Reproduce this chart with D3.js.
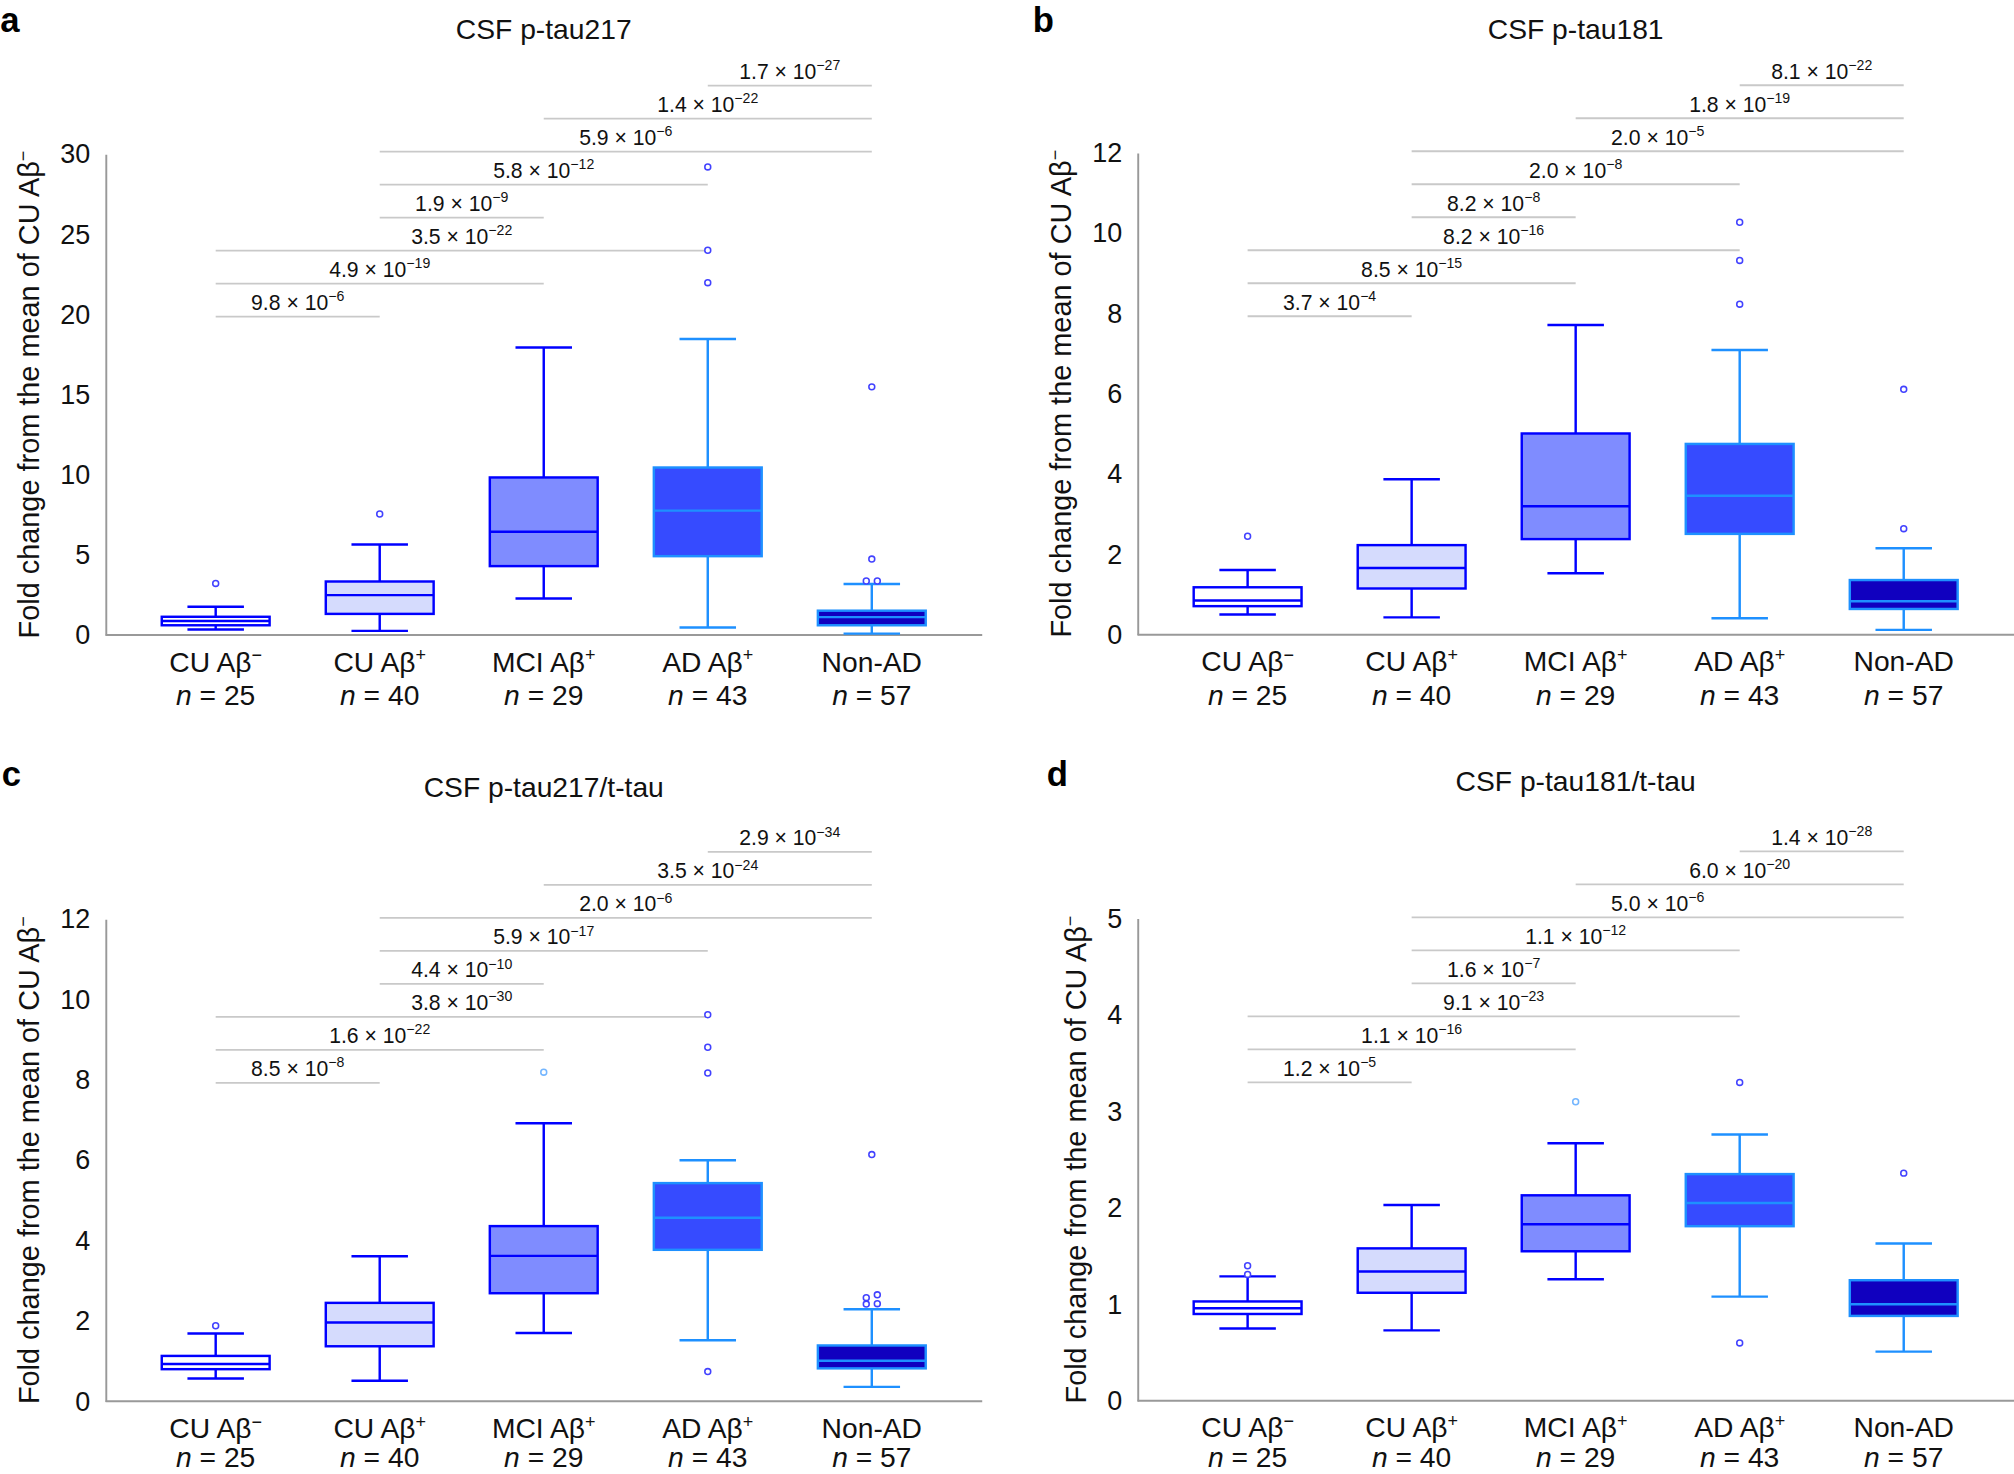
<!DOCTYPE html>
<html>
<head>
<meta charset="utf-8">
<script src="https://cdn.jsdelivr.net/npm/d3@7"></script>
<style>
  html, body { margin: 0; padding: 0; background: #fff; }
  svg { display: block; }
</style>
</head>
<body>
<div id="chart"></div>
<script>
// groups shown on every panel
const groupNames = ["CU Aβ", "CU Aβ", "MCI Aβ", "AD Aβ", "Non-AD"];
const groupSups = ["−", "+", "+", "+", ""];
const groupN = [25, 40, 29, 43, 57];
// pairs compared by the p-value brackets, bottom to top
const comparisons = [[0, 1], [0, 2], [0, 3], [1, 2], [1, 3], [1, 4], [2, 4], [3, 4]];

// box stats: [lower whisker, Q1, median, Q3, upper whisker]
const tau217Boxes = [
  [0.35, 0.61, 0.88, 1.14, 1.76],
  [0.26, 1.32, 2.49, 3.34, 5.65],
  [2.28, 4.30, 6.44, 9.83, 17.94],
  [0.47, 4.92, 7.76, 10.45, 18.47],
  [0.09, 0.61, 1.12, 1.52, 3.19]
];
const tau217Outliers = [[3.22], [7.55], [], [29.2, 24.0, 21.98], [15.48, 4.74, 3.37, 3.37]];
const tau217P = [["9.8", "−6"], ["4.9", "−19"], ["3.5", "−22"], ["1.9", "−9"],
                 ["5.8", "−12"], ["5.9", "−6"], ["1.4", "−22"], ["1.7", "−27"]];
const tau217Ticks = [0, 5, 10, 15, 20, 25, 30];

const tau181Boxes = [
  [0.50, 0.71, 0.85, 1.18, 1.61],
  [0.43, 1.15, 1.66, 2.23, 3.87],
  [1.53, 2.38, 3.20, 5.01, 7.71],
  [0.41, 2.51, 3.46, 4.75, 7.09],
  [0.12, 0.64, 0.83, 1.36, 2.15]
];
const tau181Outliers = [[2.45], [], [], [10.27, 9.32, 8.23], [6.11, 2.64]];
const tau181P = [["3.7", "−4"], ["8.5", "−15"], ["8.2", "−16"], ["8.2", "−8"],
                 ["2.0", "−8"], ["2.0", "−5"], ["1.8", "−19"], ["8.1", "−22"]];
const tau181Ticks = [0, 2, 4, 6, 8, 10, 12];

const ratio217Boxes = [
  [0.57, 0.80, 0.93, 1.13, 1.69],
  [0.51, 1.37, 1.96, 2.45, 3.61],
  [1.70, 2.69, 3.62, 4.36, 6.92],
  [1.52, 3.77, 4.57, 5.43, 6.00],
  [0.36, 0.82, 1.01, 1.39, 2.29]
];
const ratio217Outliers = [[1.88], [], [8.19], [9.62, 8.81, 8.17, 0.74], [6.14, 2.65, 2.58, 2.43, 2.42]];
const ratio217P = [["8.5", "−8"], ["1.6", "−22"], ["3.8", "−30"], ["4.4", "−10"],
                   ["5.9", "−17"], ["2.0", "−6"], ["3.5", "−24"], ["2.9", "−34"]];
const ratio217Ticks = [0, 2, 4, 6, 8, 10, 12];

const ratio181Boxes = [
  [0.75, 0.90, 0.96, 1.03, 1.29],
  [0.73, 1.12, 1.34, 1.58, 2.03],
  [1.26, 1.55, 1.83, 2.13, 2.67],
  [1.08, 1.81, 2.05, 2.35, 2.76],
  [0.51, 0.88, 1.00, 1.25, 1.63]
];
const ratio181Outliers = [[1.40, 1.31], [], [3.10], [3.30, 0.60], [2.36]];
const ratio181P = [["1.2", "−5"], ["1.1", "−16"], ["9.1", "−23"], ["1.6", "−7"],
                   ["1.1", "−12"], ["5.0", "−6"], ["6.0", "−20"], ["1.4", "−28"]];
const ratio181Ticks = [0, 1, 2, 3, 4, 5];

// styling per group
const boxFills = ["#ffffff", "#d5dbfd", "#7f8cff", "#364bff", "#1000bf"];
const boxStrokes = ["#0000ff", "#0000ff", "#0000ff", "#1e90ff", "#1e90ff"];
const outlierStrokes = ["#4242ff", "#4242ff", "#74b6ff", "#4242ff", "#4242ff"];

const font = "'Liberation Sans', Arial, Helvetica, sans-serif";
const textColor = "#111";

// drawn in the original figure's 1568 x 1148 frame, scaled up to the window
const frameH = 1148;
const svg = d3.select("#chart").append("svg")
  .attr("width", 2014)
  .attr("height", 1474)
  .attr("viewBox", "0 0 1568 " + frameH)
  .style("font-family", font);

const panels = [
  { letter: "a", title: "CSF p-tau217", boxes: tau217Boxes, outliers: tau217Outliers, pvals: tau217P, ticks: tau217Ticks,
    axisX: 82, y0: 494.6, yTop: 120, letterX: 0, letterY: 25, titleY: 30 },
  { letter: "b", title: "CSF p-tau181", boxes: tau181Boxes, outliers: tau181Outliers, pvals: tau181P, ticks: tau181Ticks,
    axisX: 885.7, y0: 494.3, yTop: 119, letterX: 804, letterY: 25, titleY: 30 },
  { letter: "c", title: "CSF p-tau217/t-tau", boxes: ratio217Boxes, outliers: ratio217Outliers, pvals: ratio217P, ticks: ratio217Ticks,
    axisX: 82, y0: 1091.4, yTop: 715.8, letterX: 1, letterY: 612, titleY: 621 },
  { letter: "d", title: "CSF p-tau181/t-tau", boxes: ratio181Boxes, outliers: ratio181Outliers, pvals: ratio181P, ticks: ratio181Ticks,
    axisX: 885.7, y0: 1091, yTop: 715.3, letterX: 815, letterY: 612, titleY: 616 }
];

const firstOffset = 85.7;   // distance from y axis to first group centre
const step = 127.75;        // distance between group centres
const boxW = 84;
const capW = 44;

panels.forEach(drawPanel);

function drawPanel(p) {
  const g = svg.append("g");
  const tickMax = d3.max(p.ticks);

  const x = d3.scalePoint()
    .domain(d3.range(groupNames.length))
    .range([p.axisX + firstOffset, p.axisX + firstOffset + step * (groupNames.length - 1)]);

  const y = d3.scaleLinear()
    .domain([0, tickMax])
    .range([p.y0, p.yTop]);

  // panel letter
  g.append("text")
    .attr("x", p.letterX)
    .attr("y", p.letterY)
    .style("font-size", "27px")
    .style("font-weight", "bold")
    .style("fill", "#000")
    .text(p.letter);

  // title centred over the middle group
  g.append("text")
    .attr("x", x(2))
    .attr("y", p.titleY)
    .attr("text-anchor", "middle")
    .style("font-size", "22px")
    .style("fill", textColor)
    .text(p.title);

  // y axis: line and labels, no tick marks
  const yAxis = g.append("g")
    .attr("transform", "translate(" + p.axisX + ",0)")
    .call(d3.axisLeft(y).tickValues(p.ticks).tickFormat(d3.format("d"))
      .tickSize(0).tickSizeOuter(0).tickPadding(12));
  yAxis.select(".domain").attr("stroke", "#999").attr("stroke-width", 1.5);
  yAxis.selectAll("text")
    .style("font-size", "21px")
    .style("font-family", font)
    .style("fill", textColor);

  // x axis line
  g.append("line")
    .attr("x1", p.axisX)
    .attr("x2", x(groupNames.length - 1) + 86)
    .attr("y1", y(0))
    .attr("y2", y(0))
    .attr("stroke", "#999")
    .attr("stroke-width", 1.5);

  // y axis title, placed left of the widest tick label
  const labelW = d3.max(p.ticks, t => String(t).length) * 11.7;
  const yTitle = g.append("text")
    .attr("transform", "translate(" + (p.axisX - 12 - labelW - 16.5) + "," + ((y(0) + y(tickMax)) / 2) + ") rotate(-90)")
    .attr("text-anchor", "middle")
    .style("font-size", "22.5px")
    .style("fill", textColor);
  yTitle.append("tspan").text("Fold change from the mean of CU Aβ");
  yTitle.append("tspan").attr("dy", -8).style("font-size", "14px").text("−");

  // group labels
  const cat = g.selectAll(".cat")
    .data(groupNames)
    .join("g")
    .attr("class", "cat");
  const catText = cat.append("text")
    .attr("x", (d, i) => x(i))
    .attr("y", y(0) + 28.5)
    .attr("text-anchor", "middle")
    .style("font-size", "22px")
    .style("fill", textColor);
  catText.append("tspan").text(d => d);
  catText.append("tspan")
    .attr("dy", -8)
    .style("font-size", "14px")
    .text((d, i) => groupSups[i]);
  const nText = cat.append("text")
    .attr("x", (d, i) => x(i))
    .attr("y", Math.min(y(0) + 54.5, frameH - 5.5))
    .attr("text-anchor", "middle")
    .style("font-size", "22px")
    .style("fill", textColor);
  nText.append("tspan").style("font-style", "italic").text("n");
  nText.append("tspan").text((d, i) => " = " + groupN[i]);

  // p-value brackets
  const brackets = g.selectAll(".bracket")
    .data(comparisons)
    .join("g")
    .attr("class", "bracket");
  const levelY = i => y(0) - 248 - i * 25.7;
  brackets.append("line")
    .attr("x1", d => x(d[0]))
    .attr("x2", d => x(d[1]))
    .attr("y1", (d, i) => levelY(i))
    .attr("y2", (d, i) => levelY(i))
    .attr("stroke", "#c9c9c9")
    .attr("stroke-width", 1.4);
  const pText = brackets.append("text")
    .attr("x", d => (x(d[0]) + x(d[1])) / 2)
    .attr("y", (d, i) => levelY(i) - 5)
    .attr("text-anchor", "middle")
    .style("font-size", "16.5px")
    .style("fill", textColor);
  pText.append("tspan").text((d, i) => p.pvals[i][0] + " × 10");
  pText.append("tspan")
    .attr("dy", -7)
    .style("font-size", "11px")
    .text((d, i) => p.pvals[i][1]);

  // boxes
  const box = g.selectAll(".box")
    .data(p.boxes)
    .join("g")
    .attr("class", "box");

  box.append("line")   // whisker stem
    .attr("x1", (d, i) => x(i))
    .attr("x2", (d, i) => x(i))
    .attr("y1", d => y(d[0]))
    .attr("y2", d => y(d[4]))
    .attr("stroke", (d, i) => boxStrokes[i])
    .attr("stroke-width", 1.9);

  [0, 4].forEach(k => {
    box.append("line")   // whisker caps
      .attr("x1", (d, i) => x(i) - capW / 2)
      .attr("x2", (d, i) => x(i) + capW / 2)
      .attr("y1", d => y(d[k]))
      .attr("y2", d => y(d[k]))
      .attr("stroke", (d, i) => boxStrokes[i])
      .attr("stroke-width", 1.9);
  });

  box.append("rect")
    .attr("x", (d, i) => x(i) - boxW / 2)
    .attr("width", boxW)
    .attr("y", d => y(d[3]))
    .attr("height", d => y(d[1]) - y(d[3]))
    .attr("fill", (d, i) => boxFills[i])
    .attr("stroke", (d, i) => boxStrokes[i])
    .attr("stroke-width", 1.9);

  box.append("line")   // median
    .attr("x1", (d, i) => x(i) - boxW / 2)
    .attr("x2", (d, i) => x(i) + boxW / 2)
    .attr("y1", d => y(d[2]))
    .attr("y2", d => y(d[2]))
    .attr("stroke", (d, i) => boxStrokes[i])
    .attr("stroke-width", 1.9);

  // outliers; near-coincident points are nudged sideways
  const pts = [];
  p.outliers.forEach((vals, gi) => {
    const sorted = vals.slice().sort((a, b) => a - b);
    let i = 0;
    while (i < sorted.length) {
      if (i + 1 < sorted.length && Math.abs(y(sorted[i]) - y(sorted[i + 1])) < 4) {
        pts.push({ g: gi, v: sorted[i], dx: -4.3 });
        pts.push({ g: gi, v: sorted[i + 1], dx: 4.3 });
        i += 2;
      } else {
        pts.push({ g: gi, v: sorted[i], dx: 0 });
        i += 1;
      }
    }
  });
  g.selectAll(".outlier")
    .data(pts)
    .join("circle")
    .attr("class", "outlier")
    .attr("cx", d => x(d.g) + d.dx)
    .attr("cy", d => y(d.v))
    .attr("r", 2.3)
    .attr("fill", "#fff")
    .attr("stroke", d => outlierStrokes[d.g])
    .attr("stroke-width", 1.2);
}
</script>
</body>
</html>
